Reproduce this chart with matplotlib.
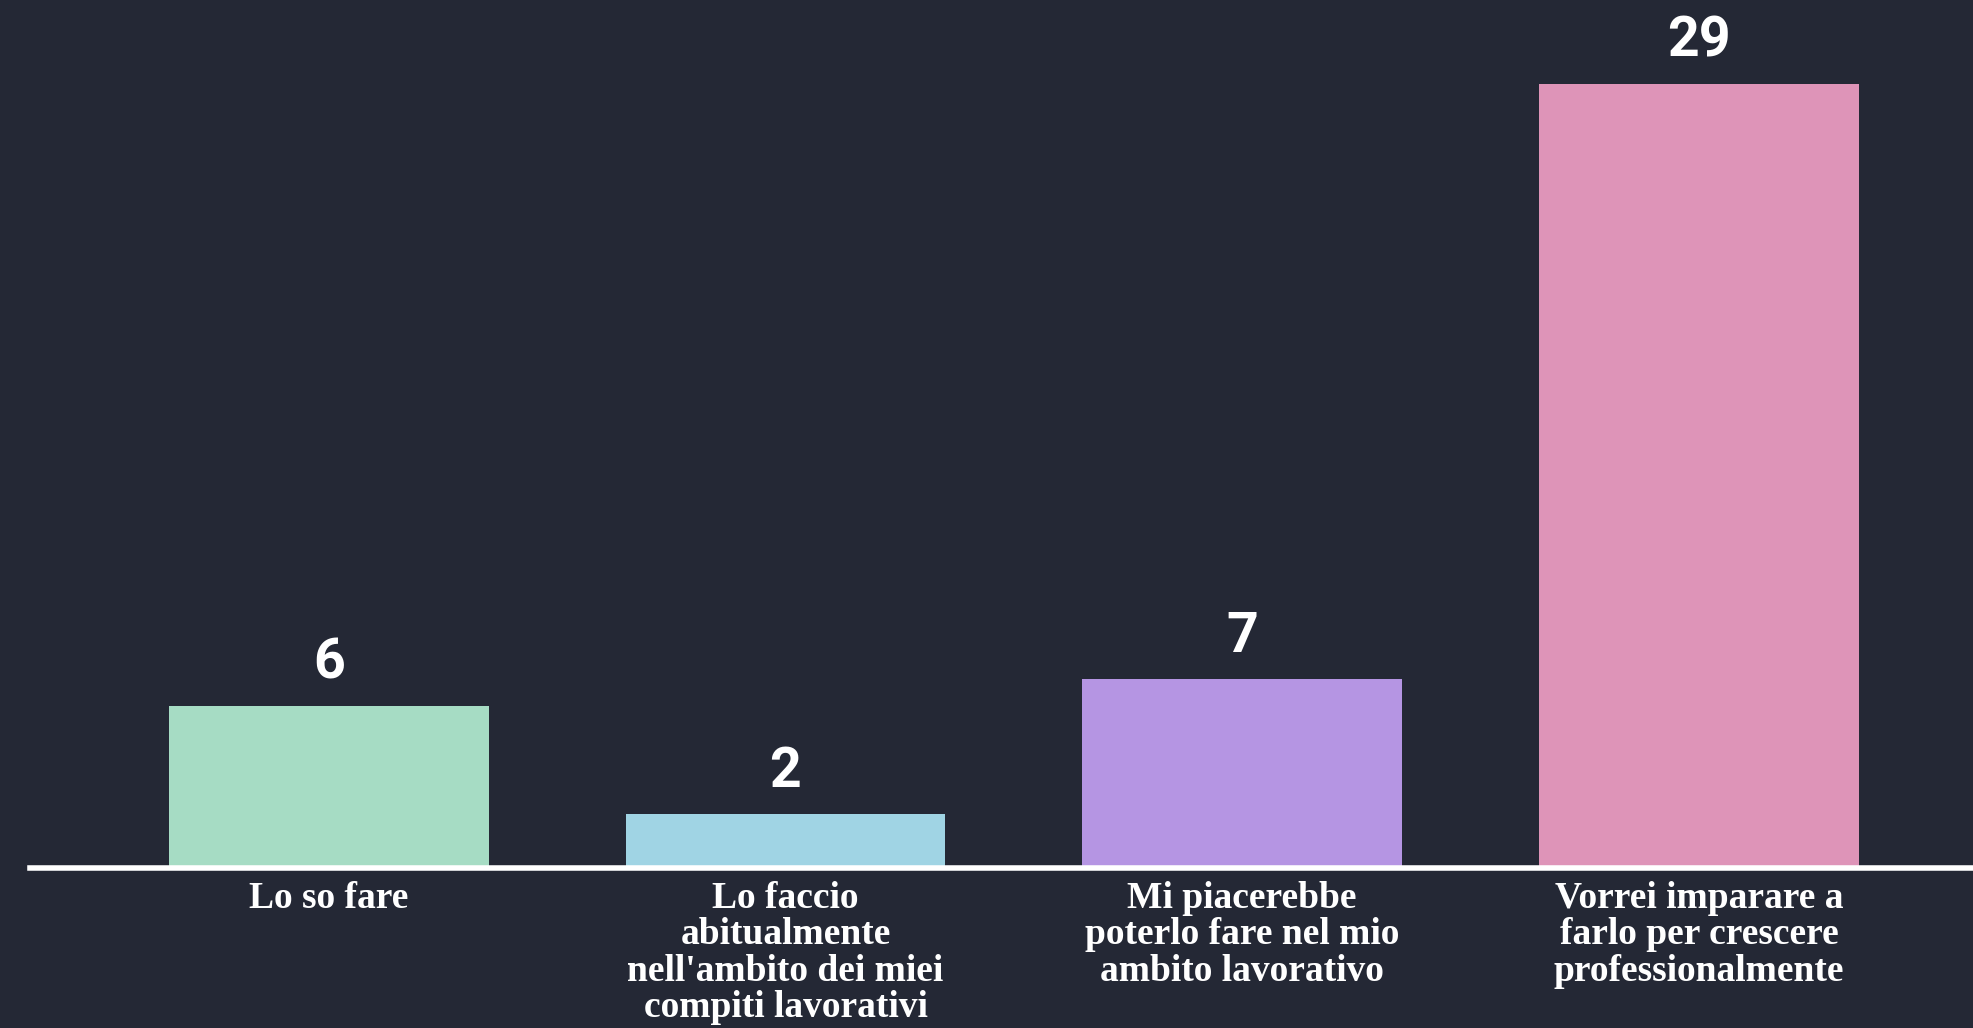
import matplotlib
matplotlib.use("Agg")
import matplotlib.pyplot as plt

categories = [
    "Lo so fare",
    "Lo faccio\nabitualmente\nnell'ambito dei miei\ncompiti lavorativi",
    "Mi piacerebbe\npoterlo fare nel mio\nambito lavorativo",
    "Vorrei imparare a\nfarlo per crescere\nprofessionalmente",
]
values = [6, 2, 7, 29]
colors = ["#a6dcc4", "#a0d4e4", "#b595e3", "#de94b8"]

bg = "#242835"

fig = plt.figure(figsize=(19.73, 10.28), dpi=100, facecolor=bg)
ax = fig.add_axes([30 / 1973, 0.1556, 1 - 30 / 1973, 1 - 0.1556])
ax.set_facecolor(bg)

x = range(len(values))
bars = ax.bar(x, values, width=0.7, color=colors, zorder=2)

for b, v in zip(bars, values):
    ax.text(b.get_x() + b.get_width() / 2, v + 0.6, str(v),
            ha="center", va="bottom", color="white",
            fontsize=40, fontweight="bold", family="Roboto")

ax.set_xlim(-0.654, 3.6)
ax.set_ylim(0, 32.1)
ax.set_xticks(list(x))
ax.set_xticklabels(categories, color="white", fontsize=27, fontweight="bold",
                   family="Liberation Serif", linespacing=1.06)
ax.tick_params(axis="x", length=0, pad=9)
ax.set_yticks([])

for s in ["top", "right", "left"]:
    ax.spines[s].set_visible(False)
ax.spines["bottom"].set_color("white")
ax.spines["bottom"].set_linewidth(4)
ax.spines["bottom"].set_zorder(3)

fig.savefig("out.png", dpi=100, facecolor=bg)
